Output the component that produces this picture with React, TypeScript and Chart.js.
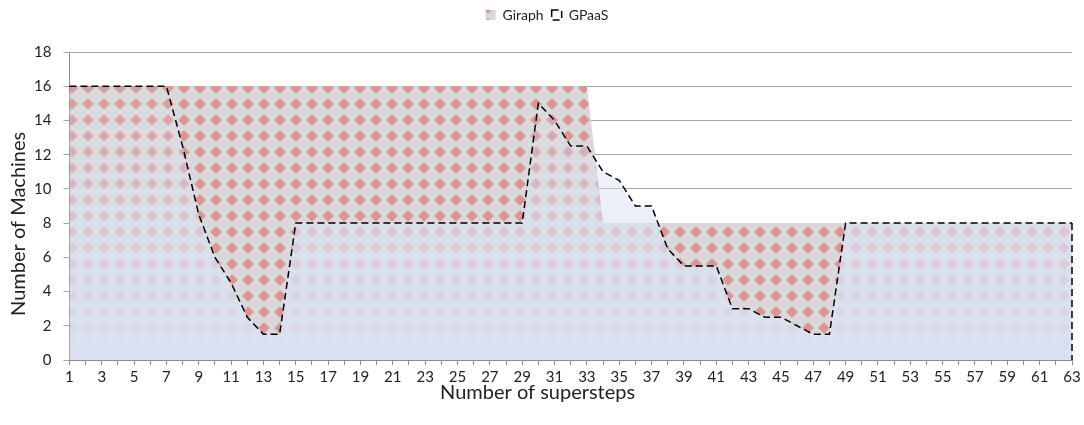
import React, { useEffect, useRef } from "react";
import { Chart, registerables } from "chart.js";

Chart.register(...registerables);

const categories = [
  "1", "2", "3", "4", "5", "6", "7", "8", "9", "10",
  "11", "12", "13", "14", "15", "16", "17", "18", "19", "20",
  "21", "22", "23", "24", "25", "26", "27", "28", "29", "30",
  "31", "32", "33", "34", "35", "36", "37", "38", "39", "40",
  "41", "42", "43", "44", "45", "46", "47", "48", "49", "50",
  "51", "52", "53", "54", "55", "56", "57", "58", "59", "60",
  "61", "62", "63",
];

const giraph = [
  16, 16, 16, 16, 16, 16, 16, 16, 16, 16,
  16, 16, 16, 16, 16, 16, 16, 16, 16, 16,
  16, 16, 16, 16, 16, 16, 16, 16, 16, 16,
  16, 16, 16, 8, 8, 8, 8, 8, 8, 8,
  8, 8, 8, 8, 8, 8, 8, 8, 8, 8,
  8, 8, 8, 8, 8, 8, 8, 8, 8, 8,
  8, 8, 8,
];

const gpaas = [
  16, 16, 16, 16, 16, 16, 16, 12.5, 8.5, 6,
  4.5, 2.5, 1.5, 1.5, 8, 8, 8, 8, 8, 8,
  8, 8, 8, 8, 8, 8, 8, 8, 8, 15,
  14, 12.5, 12.5, 11, 10.5, 9, 9, 6.5, 5.5, 5.5,
  5.5, 3, 3, 2.5, 2.5, 2, 1.5, 1.5, 8, 8,
  8, 8, 8, 8, 8, 8, 8, 8, 8, 8,
  8, 8, 8,
];

const yTicks = { min: 0, max: 18, step: 2 };

const xTitle = "Number of supersteps";
const yTitle = "Number of Machines";

const FONT = "Lato, 'Open Sans', sans-serif";

function makeDiamondPattern(): CanvasPattern | string {
  const c = document.createElement("canvas");
  c.width = 16;
  c.height = 16;
  const g = c.getContext("2d");
  if (!g) return "#dfa0a0";
  g.fillStyle = "#d9d9d9";
  g.fillRect(0, 0, 16, 16);
  g.fillStyle = "#df9494";
  g.beginPath();
  g.moveTo(8, 2.2);
  g.lineTo(13.8, 8);
  g.lineTo(8, 13.8);
  g.lineTo(2.2, 8);
  g.closePath();
  g.fill();
  return g.createPattern(c, "repeat") || "#dfa0a0";
}

const closingEdge = {
  id: "closingEdge",
  afterDatasetsDraw(chart: any) {
    const meta = chart.getDatasetMeta(0);
    if (!meta || meta.hidden) return;
    const pts = meta.data;
    const last = pts[pts.length - 1];
    if (!last) return;
    const y0 = chart.scales.y.getPixelForValue(0);
    const ctx = chart.ctx;
    ctx.save();
    ctx.strokeStyle = "#000";
    ctx.lineWidth = 1.5;
    ctx.setLineDash([7, 4]);
    ctx.beginPath();
    ctx.moveTo(last.x, last.y);
    ctx.lineTo(last.x, y0);
    ctx.stroke();
    ctx.restore();
  },
};

const legendGap = {
  id: "legendGap",
  beforeInit(chart: any) {
    const lg = chart.legend;
    if (!lg) return;
    const origFit = lg.fit;
    lg.fit = function () {
      origFit.call(this);
      this.height += 20;
    };
  },
};

const axisTitles = {
  id: "axisTitles",
  afterDraw(chart: any) {
    const { ctx, chartArea } = chart;
    if (!chartArea) return;
    ctx.save();
    ctx.fillStyle = "#222";
    ctx.font = `20px ${FONT}`;
    ctx.textAlign = "center";
    ctx.textBaseline = "middle";
    const xc = chartArea.left + (chartArea.right - chartArea.left) * 0.467;
    ctx.fillText(xTitle, xc, chartArea.bottom + 33);
    const yc = chartArea.top + (chartArea.bottom - chartArea.top) * 0.558;
    ctx.translate(19, yc);
    ctx.rotate(-Math.PI / 2);
    ctx.fillText(yTitle, 0, 0);
    ctx.restore();
  },
};

export default function App() {
  const ref = useRef<HTMLCanvasElement | null>(null);

  useEffect(() => {
    document.body.style.margin = "0";
    const canvas = ref.current;
    if (!canvas) return;
    const pattern = makeDiamondPattern();

    const chart = new Chart(canvas, {
      type: "line",
      data: {
        labels: categories,
        datasets: [
          {
            label: "GPaaS",
            data: gpaas,
            fill: "origin",
            order: 1,
            borderColor: "#000000",
            borderWidth: 1.5,
            borderDash: [7, 4],
            pointRadius: 0,
            tension: 0,
            backgroundColor: (ctx: any) => {
              const ch = ctx.chart;
              const area = ch.chartArea;
              if (!area || !ch.scales || !ch.scales.y) return "rgba(232,237,247,1)";
              const y = ch.scales.y;
              const top = y.getPixelForValue(Math.max(...gpaas));
              const bottom = y.getPixelForValue(0);
              const g = ch.ctx.createLinearGradient(0, top, 0, bottom);
              g.addColorStop(0, "rgba(218,226,243,0.05)");
              g.addColorStop(0.3, "rgba(218,226,243,0.4)");
              g.addColorStop(0.6, "rgba(218,226,243,0.7)");
              g.addColorStop(1, "rgba(218,226,243,0.96)");
              return g;
            },
          } as any,
          {
            label: "Giraph",
            data: giraph,
            fill: "origin",
            order: 2,
            borderWidth: 0,
            borderColor: "rgba(0,0,0,0)",
            pointRadius: 0,
            tension: 0,
            backgroundColor: pattern as any,
          } as any,
        ],
      },
      options: {
        animation: false,
        responsive: false,
        maintainAspectRatio: false,
        layout: { padding: { left: 22, right: 12, top: 0, bottom: 36 } },
        plugins: {
          tooltip: { enabled: false },
          legend: {
            position: "top",
            labels: {
              font: { family: FONT, size: 14 },
              color: "#222",
              boxWidth: 10,
              boxHeight: 10,
              padding: 8,
              sort: (a: any, b: any) => b.datasetIndex - a.datasetIndex,
            },
          },
        },
        scales: {
          x: {
            type: "category",
            offset: false,
            border: { color: "#8c8c8c", width: 1 },
            grid: {
              drawOnChartArea: false,
              drawTicks: true,
              tickLength: 5,
              color: "#8c8c8c",
            },
            ticks: {
              autoSkip: false,
              maxRotation: 0,
              minRotation: 0,
              padding: 3,
              color: "#222",
              font: { family: FONT, size: 15 },
              callback: (_v: any, i: number) => (i % 2 === 0 ? categories[i] : ""),
            },
          },
          y: {
            min: yTicks.min,
            max: yTicks.max,
            border: { color: "#8c8c8c", width: 1 },
            grid: {
              color: "#a6a6a6",
              drawTicks: true,
              tickLength: 6,
            },
            ticks: {
              stepSize: yTicks.step,
              padding: 12,
              color: "#222",
              font: { family: FONT, size: 15 },
            },
          },
        },
      },
      plugins: [closingEdge, legendGap, axisTitles],
    });

    return () => chart.destroy();
  }, []);

  return (
    <div style={{ width: 1084, height: 425, position: "relative" }}>
      <canvas ref={ref} width={1084} height={425} style={{ width: 1084, height: 425, display: "block" }} />
    </div>
  );
}
